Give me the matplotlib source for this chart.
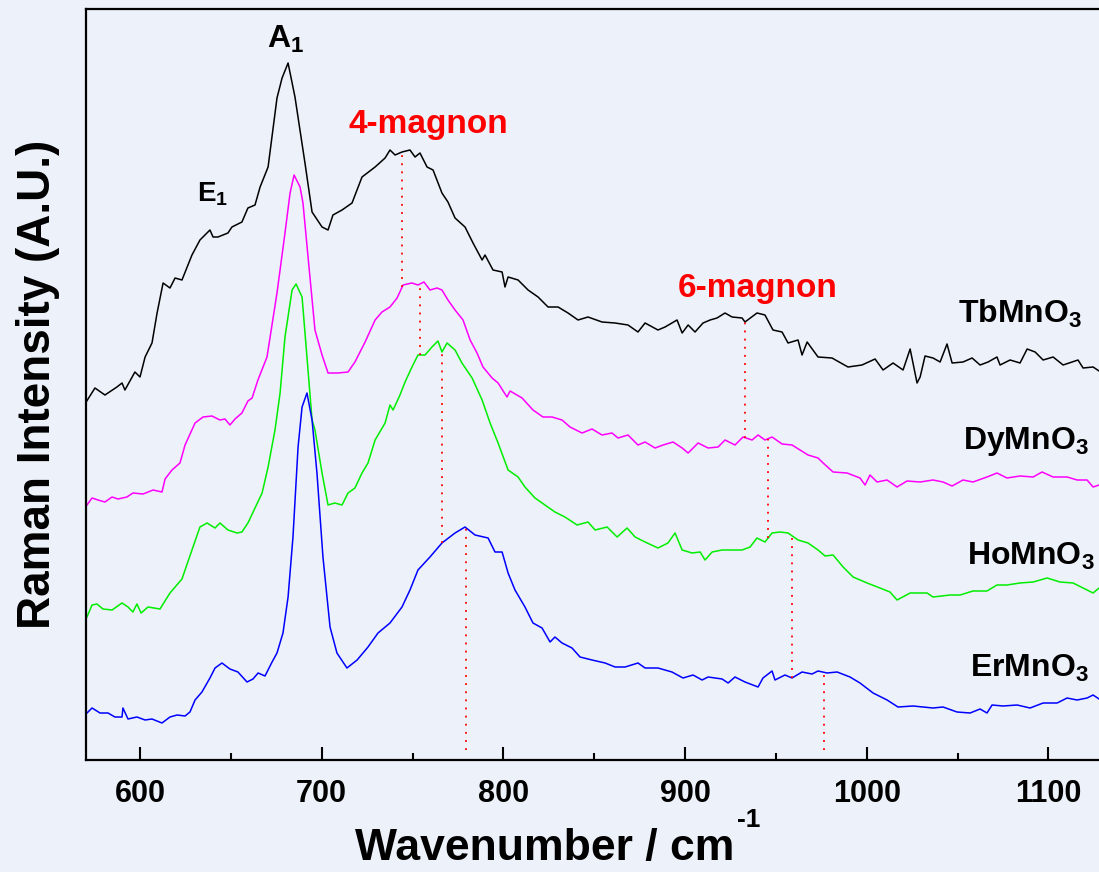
import numpy as np
import matplotlib.pyplot as plt
from matplotlib.ticker import MultipleLocator

plt.rcParams['font.family'] = ['Liberation Sans', 'DejaVu Sans']
plt.rcParams['mathtext.fontset'] = 'custom'
plt.rcParams['mathtext.rm'] = 'Liberation Sans'
plt.rcParams['mathtext.bf'] = 'Liberation Sans:bold'
plt.rcParams['mathtext.it'] = 'Liberation Sans:italic'

# Raman spectra (wavenumber in cm-1, intensity in arbitrary units, already offset)
wn_tb = [570, 575.2, 580.7, 587.3, 590.1, 591.7, 597.2, 600, 602.8, 606.6, 609.4, 612.7, 616.5, 619.3,
         623.1, 628.6, 633.0, 638.5, 640.2, 642.9, 648.4, 650.6, 656.1, 659.4, 663.3, 666.1, 670.5, 675.4,
         678.2, 681.5, 685.3, 690.8, 694.7, 700.2, 703.5, 706.2, 711.2, 716.7, 722.2, 729.4, 734.9, 737.6,
         740.4, 744.2, 748.6, 751.4, 754.1, 758.0, 761.3, 766.2, 769.5, 773.4, 778.9, 783.3, 788.3, 789.9,
         794.3, 799.3, 800.9, 802.6, 808.1, 813.6, 819.1, 824.6, 830.1, 835.6, 841.1, 846.6, 854.3, 861.5,
         868.6, 874.1, 878.0, 885.1, 889.0, 895.6, 898.4, 901.7, 905.5, 909.9, 913.8, 917.6, 922.0, 925.9,
         931.4, 933.0, 939.6, 944.0, 948.4, 953.4, 956.7, 962.2, 964.4, 967.2, 973.2, 980.9, 989.7, 997.4,
         1004.6, 1009.0, 1014.5, 1020.0, 1023.9, 1027.7, 1029.4, 1032.1, 1036.5, 1040.4, 1044.2, 1047.0,
         1053.0, 1058.0, 1062.4, 1066.8, 1071.7, 1073.4, 1078.9, 1084.4, 1088.3, 1092.7, 1097.1, 1102.6,
         1108.1, 1113.0, 1116.3, 1119.1, 1124.6, 1127.9]
tb = [357, 372, 365, 373, 377, 370, 388, 383, 403, 417, 447, 477, 472, 482,
      480, 505, 520, 530, 523, 523, 527, 533, 538, 552, 555, 573, 593, 662,
      682, 697, 663, 597, 548, 533, 530, 545, 550, 557, 583, 593, 602, 610,
      605, 608, 610, 603, 607, 593, 590, 567, 558, 542, 533, 517, 500, 505,
      490, 488, 473, 483, 480, 470, 463, 453, 453, 447, 440, 443, 438, 437,
      435, 428, 437, 430, 433, 440, 427, 435, 428, 437, 440, 442, 447, 443,
      442, 438, 447, 445, 430, 428, 417, 420, 405, 418, 403, 402, 393, 395,
      401, 390, 397, 390, 411, 377, 383, 404, 402, 398, 416, 397,
      398, 402, 395, 398, 403, 395, 400, 397, 411, 408, 400, 403,
      395, 398, 400, 392, 393, 389]

wn_dy = [570.8, 573.6, 576.9, 580.7, 584.6, 587.9, 592.8, 596.1, 601.7, 607.2, 612.1, 613.8, 617.6, 622.0,
         624.8, 630.3, 634.7, 639.6, 644.0, 646.8, 649.5, 652.3, 656.1, 659.4, 661.7, 664.9, 669.9, 675.4,
         679.8, 682.6, 684.8, 688.1, 689.7, 692.5, 696.3, 700.2, 703.5, 709.0, 714.5, 718.3, 723.9, 729.4,
         733.2, 737.6, 741.5, 744.8, 749.7, 753.0, 756.3, 759.6, 763.5, 766.2, 769.5, 773.4, 777.8, 781.7,
         785.5, 788.8, 793.8, 797.1, 802.0, 803.7, 810.3, 816.3, 821.8, 826.8, 832.3, 836.7, 843.3, 848.8,
         854.3, 859.8, 863.1, 868.6, 874.1, 878.0, 883.5, 887.9, 893.4, 898.4, 901.7, 907.2, 912.7, 918.2,
         922.0, 927.5, 931.9, 936.9, 940.2, 944.0, 947.9, 953.4, 958.9, 963.3, 967.7, 973.2, 976.0, 981.5,
         989.2, 996.3, 999.1, 1001.8, 1005.7, 1011.2, 1016.7, 1022.2, 1029.4, 1036.5, 1042.0, 1047.0, 1053.0,
         1058.5, 1066.2, 1071.7, 1077.2, 1084.4, 1091.6, 1096.5, 1102.6, 1110.3, 1115.8, 1121.3, 1124.6,
         1127.9]
dy = [255, 262, 260, 258, 263, 261, 263, 267, 266, 270, 268, 281, 290, 297,
      315, 337, 343, 344, 340, 341, 335, 341, 347, 359, 362, 380, 403, 467,
      527, 567, 585, 573, 557, 503, 430, 405, 387, 387, 388, 398, 418, 440,
      448, 453, 462, 475, 477, 475, 478, 470, 472, 470, 460, 450, 440, 420,
      407, 393, 382, 377, 363, 369, 362, 350, 343, 343, 340, 333, 327, 331,
      325, 327, 322, 325, 315, 318, 312, 315, 318, 312, 307, 317, 312, 313,
      320, 315, 323, 320, 325, 320, 323, 316, 315, 310, 305, 302, 297, 288,
      287, 282, 275, 285, 278, 280, 273, 279, 278, 280, 278, 274, 280,
      278, 283, 287, 282, 284, 283, 288, 283, 283, 280, 280, 273,
      275]

wn_ho = [570.8, 573.6, 576.3, 579.6, 584.6, 590.1, 593.4, 596.1, 598.3, 600.6, 604.4, 611.0, 616.5, 623.1,
         628.6, 633.0, 636.9, 641.3, 644.0, 648.4, 653.4, 656.1, 659.4, 663.3, 667.2, 670.5, 674.3, 677.1,
         679.8, 683.7, 685.9, 689.2, 691.9, 694.7, 696.3, 700.2, 703.5, 707.3, 711.2, 714.5, 718.3, 722.2,
         725.5, 729.4, 734.9, 737.6, 739.3, 743.1, 745.9, 749.7, 753.0, 756.9, 760.7, 764.0, 766.2, 769.0,
         773.4, 777.2, 782.8, 788.3, 792.7, 797.1, 802.6, 808.1, 811.9, 817.4, 822.9, 828.4, 833.9, 840.6,
         846.6, 850.5, 857.1, 862.6, 868.1, 872.5, 878.0, 885.1, 890.6, 894.5, 898.4, 903.9, 908.3, 911.0,
         914.9, 920.4, 925.9, 931.4, 935.8, 939.6, 944.0, 947.9, 952.3, 956.7, 962.2, 967.7, 973.2, 977.1,
         981.5, 987.0, 992.5, 1000.2, 1007.3, 1012.8, 1016.7, 1023.9, 1033.2, 1036.5, 1045.9, 1051.4, 1058.5,
         1066.2, 1071.7, 1077.2, 1084.4, 1091.6, 1099.3, 1106.4, 1113.6, 1119.1, 1124.6, 1127.9]
ho = [143, 155, 156, 151, 150, 157, 153, 148, 156, 147, 153, 151, 167, 181,
      210, 233, 237, 232, 237, 230, 227, 228, 237, 252, 267, 293, 330, 367,
      423, 470, 476, 463, 403, 340, 330, 287, 255, 257, 255, 267, 272, 287,
      297, 320, 337, 355, 350, 365, 378, 393, 405, 405, 413, 419, 408, 417,
      410, 397, 382, 360, 337, 317, 290, 283, 273, 262, 255, 248, 243, 235,
      238, 230, 233, 223, 232, 223, 218, 212, 217, 227, 210, 207, 208, 200,
      208, 210, 210, 210, 213, 222, 218, 227, 228, 227, 220, 217, 210, 204,
      205, 193, 183, 177, 172, 168, 160, 167, 167, 163, 165, 165, 169,
      169, 175, 175, 177, 178, 182, 178, 177, 172, 167, 172]

wn_er = [570.8, 573.6, 578.0, 582.4, 586.2, 590.1, 590.6, 593.4, 598.3, 602.8, 606.6, 612.1, 616.5, 620.4,
         624.8, 627.5, 630.3, 634.1, 638.5, 641.3, 645.1, 649.5, 653.9, 658.9, 662.2, 665.0, 668.8, 672.7,
         675.4, 678.7, 681.5, 684.2, 687.0, 689.2, 691.9, 694.7, 697.4, 700.7, 704.6, 708.4, 713.9, 719.5,
         725.5, 731.0, 737.6, 744.2, 748.6, 753.0, 759.6, 766.2, 773.4, 778.9, 784.4, 791.6, 795.4, 799.3,
         802.6, 806.4, 811.9, 816.3, 821.3, 825.7, 828.4, 832.3, 837.8, 842.2, 848.8, 856.0, 861.5, 867.0,
         874.1, 878.0, 885.1, 892.8, 898.9, 904.4, 909.4, 912.7, 920.4, 923.7, 927.5, 933.0, 940.2, 942.9,
         947.9, 949.5, 955.0, 958.9, 964.4, 969.9, 973.2, 978.2, 983.7, 990.8, 996.3, 1003.5, 1011.2, 1017.2,
         1025.5, 1036.5, 1042.0, 1049.7, 1056.9, 1062.4, 1066.2, 1069.0, 1075.0, 1082.8, 1089.9, 1097.1,
         1104.8, 1110.3, 1115.8, 1121.3, 1124.6, 1127.9]
er = [47, 52, 47, 47, 43, 43, 52, 41, 43, 40, 41, 37, 43, 45,
      44, 48, 60, 68, 82, 92, 97, 91, 88, 78, 81, 87, 84, 98,
      107, 127, 163, 223, 313, 353, 367, 340, 287, 203, 133, 107, 92, 100,
      113, 127, 137, 153, 170, 190, 203, 217, 227, 233, 225, 222, 208, 208,
      187, 170, 153, 137, 132, 118, 123, 117, 112, 103, 100, 97, 93, 93,
      97, 92, 92, 88, 82, 85, 80, 83, 81, 77, 83, 78, 73, 82,
      89, 80, 85, 82, 88, 86, 89, 87, 88, 83, 77, 67, 60, 53,
      54, 52, 53, 48, 47, 51, 47, 55, 54, 55, 52, 57,
      57, 62, 60, 62, 65, 61]

samples = ['TbMnO$_\\mathbf{3}$', 'DyMnO$_\\mathbf{3}$', 'HoMnO$_\\mathbf{3}$', 'ErMnO$_\\mathbf{3}$']
colors = ['black', '#ff00ff', '#00ee00', '#0000ff']
label_pos = [(1050.3, 437), (1053.0, 311), (1055.2, 195), (1056.9, 83)]

# magnon peak positions for each sample (top to bottom)
magnon4 = [744.2, 754.1, 766.2, 779.4]
magnon6 = [933.1, 945.7, 958.9, 976.5]

bg = '#edf1f9'
fig = plt.figure(figsize=(10.99, 8.72), dpi=100, facecolor=bg)
ax = fig.add_axes([85.5 / 1099, 112 / 872, 1017.4 / 1099, 751 / 872])
ax.set_facecolor(bg)

spectra = [(wn_tb, tb), (wn_dy, dy), (wn_ho, ho), (wn_er, er)]
for (wn, inten), c in zip(spectra, colors):
    ax.plot(wn, inten, color=c, lw=1.1)

for peaks in (magnon4, magnon6):
    for i, x in enumerate(peaks):
        top = np.interp(x, *spectra[i])
        bottom = np.interp(x, *spectra[i + 1]) if i < 3 else 10
        ax.plot([x, x], [bottom, top], color='red', ls=(0, (1, 3.5)), lw=1.3)

for name, (x, y) in zip(samples, label_pos):
    ax.text(x, y, name, fontsize=23, fontweight='bold', ha='left', va='baseline')

ax.text(714.5, 627, '4-magnon', color='red', fontsize=24, fontweight='bold', va='baseline')
ax.text(896.1, 463, '6-magnon', color='red', fontsize=24, fontweight='bold', va='baseline')
ax.text(669.9, 712, r'$\mathbf{A_1}$', fontsize=23, va='baseline')
ax.text(631.4, 558, r'$\mathbf{E_1}$', fontsize=20, va='baseline')

ax.set_xlim(570, 1130)
ax.set_ylim(0, 751)
ax.xaxis.set_major_locator(MultipleLocator(100))
ax.xaxis.set_minor_locator(MultipleLocator(50))
ax.set_yticks([])
ax.tick_params(axis='x', which='major', direction='in', length=9.5, width=1.5, pad=14,
               labelsize=22)
ax.tick_params(axis='x', which='minor', direction='in', length=5, width=1.5)
for lab in ax.get_xticklabels():
    lab.set_fontweight('bold')
for s in ['left', 'bottom', 'top']:
    ax.spines[s].set_linewidth(1.6)
ax.spines['right'].set_visible(False)

ax.set_xlabel('Wavenumber / cm', fontsize=32, fontweight='bold')
ax.xaxis.set_label_coords(0.4516, -0.1332)
ax.xaxis.label.set_va('baseline')
ax.text(0.6403, -0.0892, '-1', transform=ax.transAxes, fontsize=19, fontweight='bold',
        ha='left', va='baseline')
ax.set_ylabel('Raman Intensity (A.U.)', fontsize=33, fontweight='bold', labelpad=18)

fig.savefig('out.png', dpi=100, facecolor=bg)
